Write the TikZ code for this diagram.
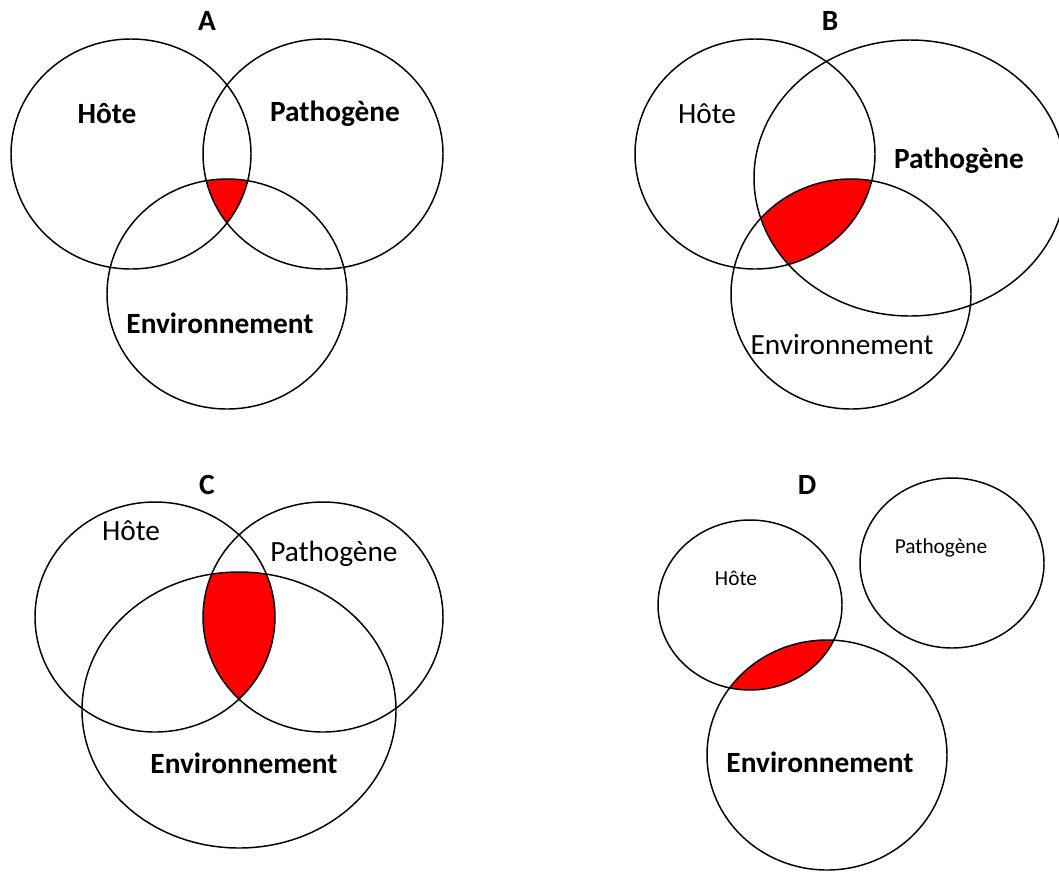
\documentclass[tikz,border=0pt]{standalone}
\usepackage{fontspec}
\setmainfont{Carlito}
\tikzset{
  venn/.style={line width=1.1pt},
  zone/.style={fill=red},
  bigb/.style={font=\bfseries\fontsize{22}{25}\selectfont},
  bigr/.style={font=\fontsize{22}{25}\selectfont},
  smallr/.style={font=\fontsize{16}{18}\selectfont},
  panel/.style={font=\bfseries\fontsize{22}{25}\selectfont}
}

\begin{document}
\begin{tikzpicture}[x=0.75pt,y=-0.75pt]
		\useasboundingbox (0,0) rectangle (1059,872);
		
		%%%%% A %%%%%
		\begin{scope}
			\clip (131,154) ellipse [x radius=120, y radius=115];
			\clip (323,154) ellipse [x radius=120, y radius=115];
			\fill[zone] (227,294) ellipse [x radius=120, y radius=115];
		\end{scope}
		\draw[venn] (131,154) ellipse [x radius=120, y radius=115];
		\draw[venn] (323,154) ellipse [x radius=120, y radius=115];
		\draw[venn] (227,294) ellipse [x radius=120, y radius=115];
		\node[panel] (titleA) at (207,21) {A};
		\node[bigb] (hostA) at (107,114) {Hôte};
		\node[bigb] (pathA) at (335,114) {Pathogène};
		\node[bigb] (envA) at (220,323) {Environnement};
		
		%%%%% B %%%%%
		\begin{scope}
			\clip (755,154) ellipse [x radius=120, y radius=115];
			\clip (910,178) ellipse [x radius=156, y radius=138];
			\fill[zone] (851,294) ellipse [x radius=120, y radius=115];
		\end{scope}
		\draw[venn] (755,154) ellipse [x radius=120, y radius=115];
		\draw[venn] (910,178) ellipse [x radius=156, y radius=138];
		\draw[venn] (851,294) ellipse [x radius=120, y radius=115];
		\node[panel] (titleB) at (830,21) {B};
		\node[bigr] (hostB) at (707,114) {Hôte};
		\node[bigb] (pathB) at (959,161) {Pathogène};
		\node[bigr] (envB) at (842,345) {Environnement};
		
		%%%%% C %%%%%
		\begin{scope}
			\clip (155,617) ellipse [x radius=120, y radius=115];
			\clip (323,617) ellipse [x radius=120, y radius=115];
			\fill[zone] (239,710) ellipse [x radius=157, y radius=138];
		\end{scope}
		\draw[venn] (155,617) ellipse [x radius=120, y radius=115];
		\draw[venn] (323,617) ellipse [x radius=120, y radius=115];
		\draw[venn] (239,710) ellipse [x radius=157, y radius=138];
		\node[panel] (titleC) at (207,485) {C};
		\node[bigr] (hostC) at (131,531) {Hôte};
		\node[bigr] (pathC) at (334,554) {Pathogène};
		\node[bigb] (envC) at (244,763) {Environnement};
		
		%%%%% D %%%%%
		\begin{scope}
			\clip (750,605) ellipse [x radius=92, y radius=85];
			\fill[zone] (827,755) ellipse [x radius=120, y radius=115];
		\end{scope}
		\draw[venn] (750,605) ellipse [x radius=92, y radius=85];
		\draw[venn] (952,563) ellipse [x radius=92, y radius=85];
		\draw[venn] (827,755) ellipse [x radius=120, y radius=115];
		\node[panel] (titleD) at (807,485) {D};
		\node[smallr] (hostD) at (736,578) {Hôte};
		\node[smallr] (pathD) at (941,548) {Pathogène};
		\node[bigb] (envD) at (820,762) {Environnement};
		
		%%%%% END %%%%%
	\end{tikzpicture}
\end{document}
